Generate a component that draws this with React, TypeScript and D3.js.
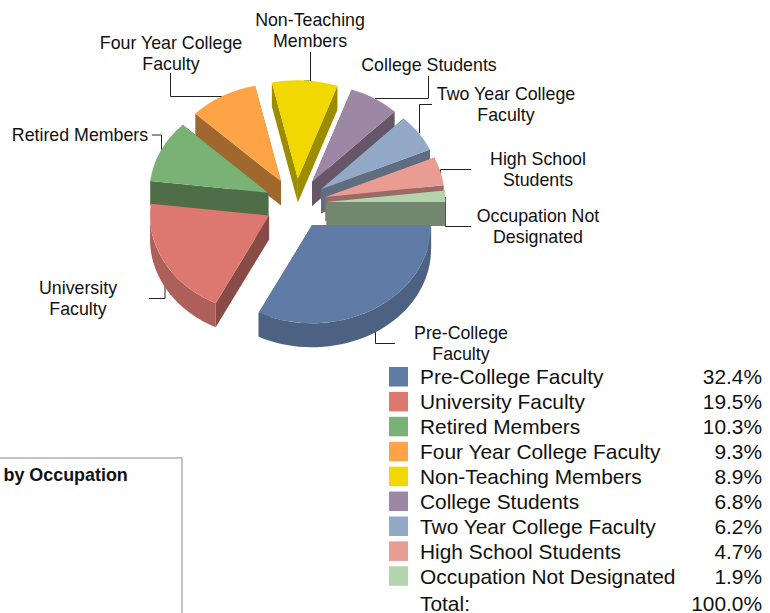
import React from "react";
import * as d3 from "d3";

// Chart values
const categories = [
  "Pre-College Faculty",
  "University Faculty",
  "Retired Members",
  "Four Year College Faculty",
  "Non-Teaching Members",
  "College Students",
  "Two Year College Faculty",
  "High School Students",
  "Occupation Not Designated",
];
const shares = [32.4, 19.5, 10.3, 9.3, 8.9, 6.8, 6.2, 4.7, 1.9];
const shareLabels = ["32.4%", "19.5%", "10.3%", "9.3%", "8.9%", "6.8%", "6.2%", "4.7%", "1.9%"];
const totalLabel = "100.0%";

const topColors = ["#5f7ba6", "#dd7871", "#7ab174", "#ffa347", "#f0d800", "#9c88a4", "#93a9c8", "#e89c92", "#b4d4ae"];
const rimColors = ["#4d6282", "#ad5f5a", "#5e8a58", "#c98038", "#b8a600", "#7a6a80", "#73849c", "#b57a72", "#8ca688"];
const wallColors = ["#48597a", "#884b45", "#4e6e47", "#a0682c", "#9b8c00", "#665667", "#5f6d80", "#9a6a66", "#72876e"];

// Slice callouts: wrapped text and the leader elbow
const calloutText = [
  ["Pre-College", "Faculty"],
  ["University", "Faculty"],
  ["Retired Members"],
  ["Four Year College", "Faculty"],
  ["Non-Teaching", "Members"],
  ["College Students"],
  ["Two Year College", "Faculty"],
  ["High School", "Students"],
  ["Occupation Not", "Designated"],
];
const calloutAnchor: [number, number][] = [
  [461, 333], [78, 288], [80, 135], [171, 43], [310, 20], [429, 65], [506, 94], [538, 159], [538, 216],
];
const leaders: [number, number][][] = [
  [[375.5, 309], [375.5, 343.5], [395, 343.5]],
  [[165, 263], [165, 298.5], [149, 298.5]],
  [[161.5, 152], [161.5, 135], [152, 135]],
  [[222.5, 96.5], [170.5, 96.5], [170.5, 73]],
  [[304, 81], [310.5, 81], [310.5, 52]],
  [[375, 98.5], [428.5, 98.5], [428.5, 76]],
  [[419.5, 133], [419.5, 104.5], [432, 104.5]],
  [[440.5, 177], [440.5, 169.5], [471, 169.5]],
  [[445.5, 197], [445.5, 226.5], [471, 226.5]],
];

const FONT = "'Liberation Sans', Arial, sans-serif";
const cx = 296;
const cy = 203.6;
const rx = 119;
const squash = 0.825; // tilt of the pie
const depth = 24;
const explode = 30.6;

const pieGen = d3
  .pie<number>()
  .sort(null)
  .startAngle(Math.PI / 2)
  .endAngle(Math.PI / 2 + Math.PI * 2);

const arcGen = d3.arc<d3.PieArcDatum<number>>().innerRadius(0).outerRadius(rx);
const lineGen = d3.line();

const legendY = d3
  .scalePoint<string>()
  .domain(categories)
  .range([376.7, 576]);

// d3 pie angles start at 12 o'clock, screen angles here at 3 o'clock
const toScreen = (a: number) => a - Math.PI / 2;

const App: React.FC = () => {
  const arcs = pieGen(shares);

  const slices = arcs
    .map((d, i) => {
      const start = toScreen(d.startAngle);
      const end = toScreen(d.endAngle);
      const mid = (start + end) / 2;
      const ax = cx + explode * Math.cos(mid);
      const ay = cy + explode * Math.sin(mid) * squash;
      return { d, i, start, end, ax, ay };
    })
    .sort((a, b) => a.ay - b.ay);

  const rimPoint = (s: { ax: number; ay: number }, t: number): [number, number] => [
    s.ax + rx * Math.cos(t),
    s.ay + rx * squash * Math.sin(t),
  ];

  return (
    <svg
      width={770}
      height={613}
      style={{ position: "absolute", left: 0, top: 0, display: "block", background: "#fff" }}
      fontFamily={FONT}
    >
      {/* frame of the neighbouring panel */}
      <path d="M0,458 H182 V613" fill="none" stroke="#c4c4c4" strokeWidth={2} />
      <text x={3.5} y={481} fontSize={17.9} fontWeight="bold" fill="#111">
        by Occupation
      </text>

      {/* leaders */}
      {leaders.map((l, i) => (
        <path key={i} d={lineGen(l) as string} fill="none" stroke="#222" strokeWidth={1} />
      ))}

      {/* slices, back to front */}
      {slices.map((s) => {
        const a = rimPoint(s, s.start);
        const b = rimPoint(s, s.end);
        const wall = (p: [number, number]) =>
          lineGen([
            [s.ax, s.ay],
            p,
            [p[0], p[1] + depth],
            [s.ax, s.ay + depth],
          ]) + "Z";

        // outer wall only where the rim faces the viewer
        const from = Math.max(s.start, 0);
        const to = Math.min(s.end, Math.PI);
        let rim: string | null = null;
        if (to > from) {
          const ts = d3.range(0, 41).map((k) => from + ((to - from) * k) / 40);
          const upper = ts.map((t) => rimPoint(s, t));
          const lower = upper.map(([x, y]) => [x, y + depth] as [number, number]).reverse();
          rim = lineGen([...upper, ...lower]) + "Z";
        }

        return (
          <g key={s.i}>
            <path d={wall(a)} fill={wallColors[s.i]} />
            <path d={wall(b)} fill={wallColors[s.i]} />
            {rim && <path d={rim} fill={rimColors[s.i]} />}
            <path
              d={arcGen(s.d) as string}
              transform={`translate(${s.ax},${s.ay}) scale(1,${squash})`}
              fill={topColors[s.i]}
            />
          </g>
        );
      })}

      {/* callouts */}
      {calloutText.map((lines, i) => (
        <text key={i} textAnchor="middle" fontSize={17.8} fill="#111">
          {lines.map((t, j) => (
            <tspan key={j} x={calloutAnchor[i][0]} y={calloutAnchor[i][1] + 21 * j + 6}>
              {t}
            </tspan>
          ))}
        </text>
      ))}

      {/* legend */}
      {categories.map((c, i) => {
        const y = legendY(c) as number;
        return (
          <g key={c}>
            <rect x={389} y={y - 9.7} width={19} height={19.5} fill={topColors[i]} />
            <text x={420} y={y + 7.5} fontSize={20.9} fill="#111">
              {c}
            </text>
            <text x={762} y={y + 7.5} fontSize={20.9} fill="#111" textAnchor="end">
              {shareLabels[i]}
            </text>
          </g>
        );
      })}
      <text x={420} y={611} fontSize={20.9} fill="#111">
        Total:
      </text>
      <text x={762} y={611} fontSize={20.9} fill="#111" textAnchor="end">
        {totalLabel}
      </text>
    </svg>
  );
};

export default App;
